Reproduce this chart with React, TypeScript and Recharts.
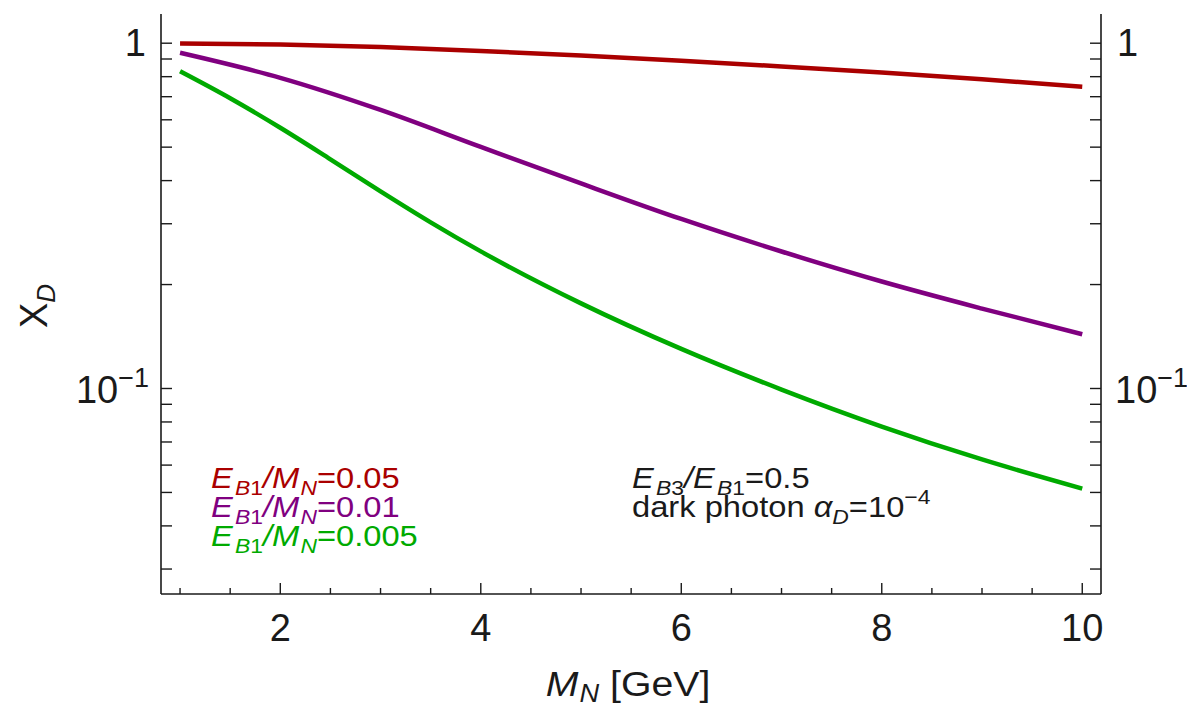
import React from 'react'
import { LineChart, Line, XAxis, YAxis } from 'recharts'

// M_N [GeV] sample points, X_D
const massRed = [1, 2, 3, 4, 5, 6, 7, 8, 9, 10]
const xdRed = [0.998, 0.9913, 0.975, 0.9499, 0.9207, 0.8892, 0.8566, 0.8225, 0.7862, 0.7475]

const massPurple = [1, 2, 3, 4, 5, 6, 7, 8, 9, 10]
const xdPurple = [0.938, 0.794, 0.641, 0.501, 0.3925, 0.3097, 0.2493, 0.2041, 0.1704, 0.1436]

const massGreen = [1, 1.5, 2, 2.5, 3, 3.5, 4, 5, 6, 7, 8, 9, 10]
const xdGreen = [0.8295, 0.6929, 0.5689, 0.4611, 0.3724, 0.3029, 0.2495, 0.1764, 0.1302, 0.0993, 0.0776, 0.0623, 0.0513]

const xTicks = [1, 1.5, 2, 2.5, 3, 3.5, 4, 4.5, 5, 5.5, 6, 6.5, 7, 7.5, 8, 8.5, 9, 9.5, 10]
const xMajor = [2, 4, 6, 8, 10]
const yTicks = [1, 0.9, 0.8, 0.7, 0.6, 0.5, 0.4, 0.3, 0.2, 0.1, 0.09, 0.08, 0.07, 0.06, 0.05, 0.04, 0.03]

const RED = '#aa0000'
const PURPLE = '#800080'
const GREEN = '#00aa00'
const INK = '#1a1a1a'
const FONT = '"Liberation Sans", Arial, sans-serif'
const WIDEN = 1.09 // the picture's text runs a bit wider than Arial

const toPoints = (xs: number[], ys: number[]) => xs.map((m, i) => ({ m, v: ys[i] }))

const yLabel = (v: number) => {
  if (v === 1) return '1'
  if (v === 0.1) return 'exp'
  return null
}

const LeftTick = ({ x, y, payload }: any) => {
  const lab = yLabel(payload.value)
  return (
    <g>
      <line x1={x} x2={x + 11} y1={y} y2={y} stroke={INK} strokeWidth={1.4} />
      {lab === '1' && (
        <text x={x - 15} y={y + 13} textAnchor="end" fontSize={38} fontFamily={FONT} fill={INK}>1</text>
      )}
      {lab === 'exp' && (
        <text x={x - 12} y={y + 15} textAnchor="end" fontSize={38} fontFamily={FONT} fill={INK}>
          10<tspan dy={-16} fontSize={27}>−1</tspan>
        </text>
      )}
    </g>
  )
}

const RightTick = ({ x, y, payload }: any) => {
  const lab = yLabel(payload.value)
  return (
    <g>
      <line x1={x - 11} x2={x} y1={y} y2={y} stroke={INK} strokeWidth={1.4} />
      {lab === '1' && (
        <text x={x + 16} y={y + 13} textAnchor="start" fontSize={38} fontFamily={FONT} fill={INK}>1</text>
      )}
      {lab === 'exp' && (
        <text x={x + 14} y={y + 15} textAnchor="start" fontSize={38} fontFamily={FONT} fill={INK}>
          10<tspan dy={-16} fontSize={27}>−1</tspan>
        </text>
      )}
    </g>
  )
}

const BottomTick = ({ x, y, payload }: any) => {
  const major = xMajor.includes(payload.value)
  return (
    <g>
      <line x1={x} x2={x} y1={y} y2={y - (major ? 11 : 6)} stroke={INK} strokeWidth={1.4} />
      {major && (
        <text x={x} y={y + 47} textAnchor="middle" fontSize={38} fontFamily={FONT} fill={INK}>
          {payload.value}
        </text>
      )}
    </g>
  )
}

const LegendLine = ({ y, color, value }: { y: number; color: string; value: string }) => (
  <g transform={`translate(211 ${y}) scale(${WIDEN} 1)`}>
    <text x={0} y={0} fontSize={30} fontFamily={FONT} fill={color}>
      <tspan fontStyle="italic">E</tspan>
      <tspan fontStyle="italic" fontSize={21} dx={2} dy={7}>B</tspan>
      <tspan fontSize={21}>1</tspan>
      <tspan fontStyle="italic" dy={-7}>/M</tspan>
      <tspan fontStyle="italic" fontSize={21} dx={1} dy={7}>N</tspan>
      <tspan dy={-7}>={value}</tspan>
    </text>
  </g>
)

export default function App() {
  return (
    <div style={{ position: 'absolute', left: 0, top: 0, width: 1187, height: 712, background: '#fff' }}>
      <LineChart width={1187} height={712} margin={{ top: 14, right: 0, bottom: 0, left: 0 }}>
        <XAxis
          xAxisId="bottom"
          dataKey="m"
          type="number"
          domain={[0.81, 10.187]}
          allowDataOverflow
          ticks={xTicks}
          interval={0}
          height={118}
          tickSize={0}
          tickMargin={0}
          tickLine={false}
          tick={<BottomTick />}
          axisLine={{ stroke: INK, strokeWidth: 1.6 }}
        />
        <XAxis
          xAxisId="top"
          orientation="top"
          dataKey="m"
          type="number"
          domain={[0.81, 10.187]}
          height={0}
          tick={false}
          tickLine={false}
          axisLine={{ stroke: INK, strokeWidth: 1.6 }}
        />
        <YAxis
          yAxisId="left"
          type="number"
          scale="log"
          domain={[0.0254, 1.215]}
          allowDataOverflow
          ticks={yTicks}
          interval={0}
          width={161}
          tickSize={0}
          tickMargin={0}
          tickLine={false}
          tick={<LeftTick />}
          axisLine={{ stroke: INK, strokeWidth: 1.6 }}
        />
        <YAxis
          yAxisId="right"
          orientation="right"
          type="number"
          scale="log"
          domain={[0.0254, 1.215]}
          allowDataOverflow
          ticks={yTicks}
          interval={0}
          width={86}
          tickSize={0}
          tickMargin={0}
          tickLine={false}
          tick={<RightTick />}
          axisLine={{ stroke: INK, strokeWidth: 1.6 }}
        />
        <Line
          xAxisId="bottom"
          yAxisId="left"
          data={toPoints(massRed, xdRed)}
          dataKey="v"
          type="monotone"
          stroke={RED}
          strokeWidth={4.5}
          dot={false}
          isAnimationActive={false}
        />
        <Line
          xAxisId="bottom"
          yAxisId="left"
          data={toPoints(massPurple, xdPurple)}
          dataKey="v"
          type="monotone"
          stroke={PURPLE}
          strokeWidth={4.5}
          dot={false}
          isAnimationActive={false}
        />
        <Line
          xAxisId="bottom"
          yAxisId="left"
          data={toPoints(massGreen, xdGreen)}
          dataKey="v"
          type="monotone"
          stroke={GREEN}
          strokeWidth={4.5}
          dot={false}
          isAnimationActive={false}
        />
      </LineChart>

      {/* axis titles, legend and note */}
      <svg
        width={1187}
        height={712}
        style={{ position: 'absolute', left: 0, top: 0, pointerEvents: 'none' }}
      >
        <text
          transform="translate(47 306) rotate(-90)"
          textAnchor="middle"
          fontSize={38}
          fontFamily={FONT}
          fill={INK}
        >
          X<tspan fontStyle="italic" fontSize={26} dy={8}>D</tspan>
        </text>
        <g transform={`translate(628 696) scale(${WIDEN} 1)`}>
          <text x={0} y={0} textAnchor="middle" fontSize={36} fontFamily={FONT} fill={INK}>
            <tspan fontStyle="italic">M</tspan>
            <tspan fontStyle="italic" fontSize={25} dx={1} dy={6}>N</tspan>
            <tspan dy={-6}> [GeV]</tspan>
          </text>
        </g>

        <LegendLine y={488} color={RED} value="0.05" />
        <LegendLine y={517} color={PURPLE} value="0.01" />
        <LegendLine y={546} color={GREEN} value="0.005" />

        <g transform={`translate(632 488) scale(${WIDEN} 1)`}>
          <text x={0} y={0} fontSize={30} fontFamily={FONT} fill={INK}>
            <tspan fontStyle="italic">E</tspan>
            <tspan fontStyle="italic" fontSize={21} dx={2} dy={7}>B</tspan>
            <tspan fontSize={21}>3</tspan>
            <tspan fontStyle="italic" dy={-7}>/E</tspan>
            <tspan fontStyle="italic" fontSize={21} dx={2} dy={7}>B</tspan>
            <tspan fontSize={21}>1</tspan>
            <tspan dy={-7}>=0.5</tspan>
          </text>
        </g>
        <g transform={`translate(632 517) scale(${WIDEN} 1)`}>
          <text x={0} y={0} fontSize={30} fontFamily={FONT} fill={INK}>
            <tspan>dark photon </tspan>
            <tspan fontStyle="italic">α</tspan>
            <tspan fontStyle="italic" fontSize={21} dy={7}>D</tspan>
            <tspan dy={-7}>=10</tspan>
            <tspan fontSize={21} dy={-13}>−4</tspan>
          </text>
        </g>
      </svg>
    </div>
  )
}
